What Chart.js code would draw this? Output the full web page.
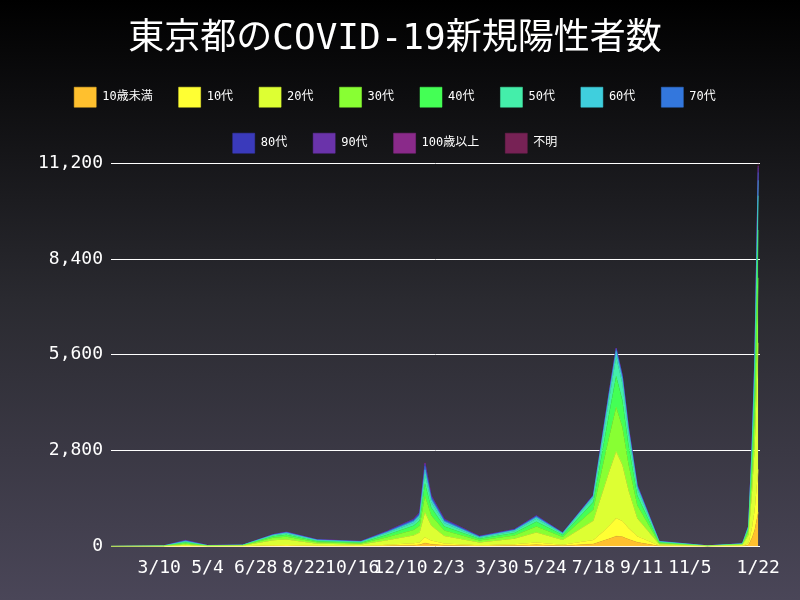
<!DOCTYPE html>
<html><head><meta charset="utf-8">
<script src="https://cdn.jsdelivr.net/npm/chart.js@4"></script>
<style>
html,body{margin:0;padding:0;}
body{width:800px;height:600px;background:linear-gradient(#000 0%,#2a2a30 50%,#4a4658 100%);}
</style></head>
<body><canvas id="c" width="800" height="600"></canvas>
<script>
// days counted from 2020-01-15
const days = [0,60,85,110,150,185,200,235,285,315,345,352,358,365,380,420,460,485,515,550,562,568,576,583,590,600,625,680,720,727,731,734,738];
const ageLabels = ['10歳未満','10代','20代','30代','40代','50代','60代','70代','80代','90代','100歳以上','不明'];
const ageColors = ['#ffc02e','#ffff33','#ddff33','#88ff33','#44ff55','#44eeaa','#3fcfdd','#3377dd','#3a3abb','#6a33aa','#8a2a8a','#772255'];
const under10 = [0,0,4,1,1,10,15,8,6,20,35,45,100,65,35,15,25,45,20,70,170,220,300,280,210,120,12,1,6,40,250,480,1000];
const teens = [0,1,5,1,2,20,25,12,8,30,55,70,170,105,50,20,35,70,30,120,280,380,520,460,330,180,15,2,8,60,320,600,1250];
const twenties = [0,4,36,6,14,150,160,60,40,130,230,290,720,440,220,80,160,290,140,560,1250,1580,1950,1650,1100,520,35,5,28,240,1050,1850,3700];
const thirties = [0,4,36,6,9,70,85,40,30,90,160,200,480,300,160,60,100,180,85,330,800,1020,1300,1100,760,380,30,4,14,110,520,950,1900];
const forties = [0,3,31,5,6,45,55,30,25,70,120,150,370,225,120,45,75,135,60,220,520,680,900,780,560,290,25,3,10,70,390,700,1400];
const fifties = [0,3,25,4,4,28,40,22,18,50,85,105,260,160,90,35,50,90,35,130,320,420,560,490,350,190,18,2,7,45,270,500,1000];
const sixties = [0,2,16,3,2,12,18,12,10,25,45,55,140,85,50,20,25,45,15,40,100,130,170,150,110,65,7,1,3,18,110,220,450];
const seventies = [0,1,13,2,1,8,12,8,7,18,35,40,100,60,40,13,16,25,8,18,40,50,60,55,45,30,4,1,2,10,50,100,230];
const eighties = [0,1,9,1,1,4,6,5,4,10,20,25,60,35,22,8,9,13,4,8,15,15,25,25,25,17,3,1,1,4,25,55,130];
const nineties = [0,1,4,1,0,2,3,2,2,5,10,12,30,15,10,3,4,6,2,3,4,4,8,8,8,7,1,0,1,2,12,25,60];
const over100 = [0,0,0,0,0,0,0,0,0,0,0,0,1,0,0,0,0,0,0,0,0,0,0,0,0,0,0,0,0,0,0,1,2];
const unknown = [0,0,1,0,0,1,1,1,0,2,5,8,19,10,3,1,1,1,1,1,1,1,7,2,2,1,0,0,0,1,3,19,78];
const series = [under10,teens,twenties,thirties,forties,fifties,sixties,seventies,eighties,nineties,over100,unknown];
const tickDays = [55,110,165,220,275,330,385,440,495,550,605,660,738];
const tickLabels = ['3/10','5/4','6/28','8/22','10/16','12/10','2/3','3/30','5/24','7/18','9/11','11/5','1/22'];
const yTicks = [0,2800,5600,8400,11200];

const mono = "'DejaVu Sans Mono', 'Noto Sans CJK JP', monospace";
new Chart(document.getElementById('c'), {
  type: 'line',
  data: {
    datasets: series.map((s, i) => ({
      label: ageLabels[i],
      data: s.map((v, j) => ({ x: days[j], y: v })),
      backgroundColor: ageColors[i],
      borderColor: ageColors[i],
      borderWidth: 0.5,
      pointRadius: 0,
      fill: i === 0 ? 'origin' : '-1'
    }))
  },
  options: {
    responsive: false,
    animation: false,
    layout: { padding: { left: 30, right: 40, bottom: 18 } },
    plugins: {
      title: { display: true, text: '東京都のCOVID-19新規陽性者数', color: '#fff',
        font: { family: mono, size: 36, weight: 'normal' }, padding: { top: 18, bottom: 0 } },
      legend: { labels: { color: '#fff', font: { family: mono, size: 12 }, boxWidth: 22, boxHeight: 20, padding: 26 } },
      tooltip: { enabled: false }
    },
    scales: {
      x: {
        type: 'linear', min: 0, max: 740,
        afterBuildTicks: ax => { ax.ticks = tickDays.map(v => ({ value: v })); },
        ticks: { color: '#fff', font: { family: mono, size: 18 }, maxRotation: 0, autoSkip: false,
          callback: v => tickLabels[tickDays.indexOf(v)] },
        grid: { display: false }, border: { display: false }
      },
      y: {
        stacked: true, min: 0, max: 11200,
        afterBuildTicks: ax => { ax.ticks = yTicks.map(v => ({ value: v })); },
        ticks: { color: '#fff', font: { family: mono, size: 18 }, padding: 8, callback: v => v.toLocaleString('en-US') },
        grid: { color: '#fff', lineWidth: 1, drawTicks: false }, border: { display: false }
      }
    }
  }
});
</script></body></html>
